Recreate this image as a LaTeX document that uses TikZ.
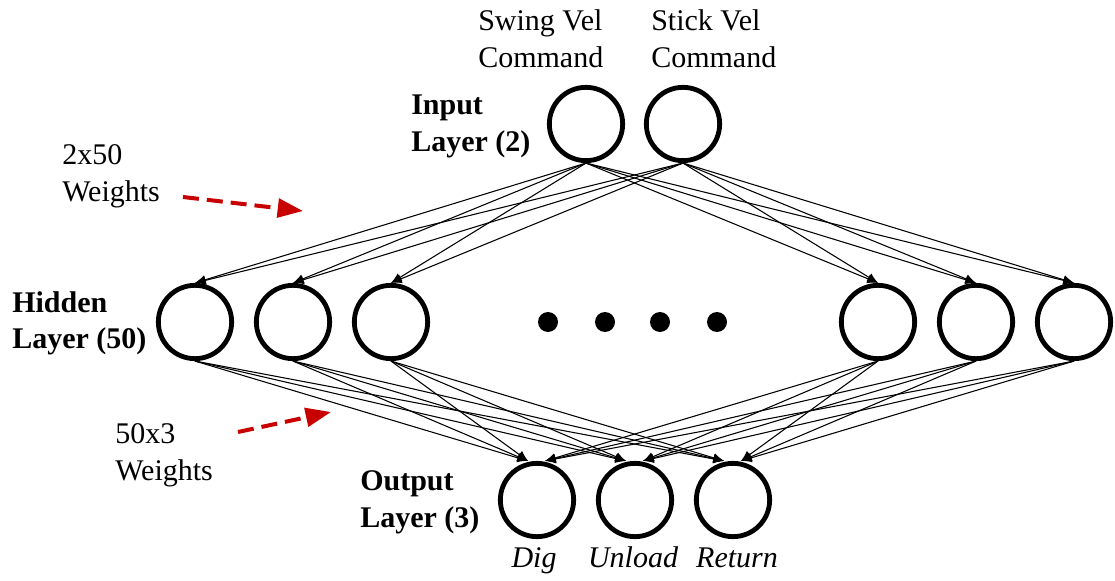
\documentclass[tikz,border=0pt]{standalone}
\usepackage{fontspec}
\setmainfont{Liberation Serif}
\usetikzlibrary{arrows.meta}
\begin{document}
\begin{tikzpicture}[x=0.75pt,y=-0.75pt,
  every node/.style={font=\fontsize{22.5}{27.75}\selectfont},
  neuron/.style={circle,draw,line width=3.6pt,minimum size=55pt,inner sep=0pt},
  dotnode/.style={circle,fill,minimum size=15pt,inner sep=0pt},
  lbl/.style={anchor=base west,align=left,inner sep=0pt},
  blbl/.style={lbl,font=\fontsize{22.5}{27.75}\selectfont\bfseries},
  olbl/.style={anchor=base,inner sep=0pt,font=\fontsize{22.5}{27.75}\selectfont\itshape},
  conn/.style={line width=0.8pt,-{Latex[length=8pt,width=7pt]}},
  redarrow/.style={draw={rgb,255:red,200;green,0;blue,0},line width=3pt,dash pattern=on 12pt off 6pt,
    -{Triangle[length=19pt,width=14pt,fill={rgb,255:red,200;green,0;blue,0}]}}]
\useasboundingbox (0,0) rectangle (1115,581);
% input
\node[neuron] (i1) at (586,124) {};
\node[neuron] (i2) at (683,124) {};
% hidden
\node[neuron] (h1) at (195,322) {};
\node[neuron] (h2) at (293,322) {};
\node[neuron] (h3) at (391,322) {};
\node[neuron] (h4) at (878,322) {};
\node[neuron] (h5) at (976,322) {};
\node[neuron] (h6) at (1074,322) {};
% output
\node[neuron] (o1) at (537,500) {};
\node[neuron] (o2) at (635,500) {};
\node[neuron] (o3) at (733,500) {};
% dots
\node[dotnode] (d1) at (548,322) {};
\node[dotnode] (d2) at (605,322) {};
\node[dotnode] (d3) at (660,322) {};
\node[dotnode] (d4) at (717,322) {};
% input -> hidden
\foreach \i in {i1,i2}
  \foreach \h in {h1,h2,h3,h4,h5,h6}
    \draw[conn] (\i.south) -- (\h.north);
% hidden -> output
\foreach \h in {h1,h2,h3}
  \foreach \o in {o1,o2,o3}
    \draw[conn] (\h.south) -- ([xshift=-6.75pt]\o.north);
\foreach \h in {h4,h5,h6}
  \foreach \o in {o1,o2,o3}
    \draw[conn] (\h.south) -- ([xshift=6pt]\o.north);
% labels (anchor = baseline of last line)
\node[lbl] (swing) at (478,68) {Swing Vel\\Command};
\node[lbl] (stick) at (651,68) {Stick Vel\\Command};
\node[blbl] (inl) at (411,152) {Input\\Layer (2)};
\node[blbl] (hidl) at (12,349) {Hidden\\Layer (50)};
\node[blbl] (outl) at (360,527) {Output\\Layer (3)};
\node[lbl] (w1) at (62,202) {2x50\\Weights};
\node[lbl] (w2) at (115,480) {50x3\\Weights};
\node[olbl] (dig) at (534,567) {Dig};
\node[olbl] (unl) at (633,567) {Unload};
\node[olbl] (ret) at (737,567) {Return};
% red arrows
\coordinate (r1s) at (183,197);
\coordinate (r1e) at (303,211);
\coordinate (r2s) at (238,432);
\coordinate (r2e) at (331,412);
\draw[redarrow] (r1s) -- (r1e);
\draw[redarrow] (r2s) -- (r2e);
\end{tikzpicture}
\end{document}
